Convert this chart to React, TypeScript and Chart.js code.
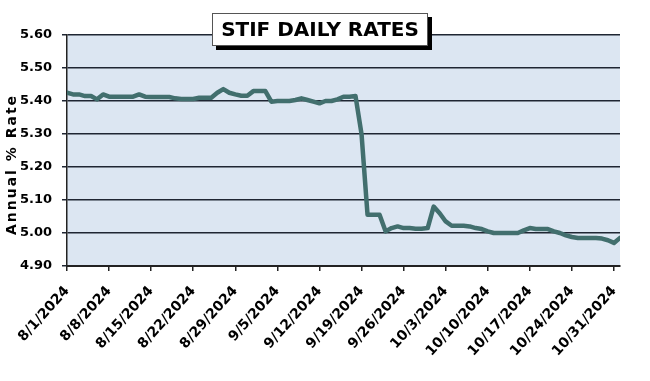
import React, { useEffect, useRef } from "react";
import { Chart, registerables } from "chart.js";

Chart.register(...registerables);

// Day offsets from 8/1/2024 and daily STIF rates
const rates: number[] = [
  5.425, 5.42, 5.42, 5.415, 5.415, 5.405, 5.42, 5.413, 5.413, 5.413,
  5.413, 5.413, 5.42, 5.413, 5.412, 5.412, 5.412, 5.412, 5.408, 5.406,
  5.406, 5.406, 5.41, 5.41, 5.41, 5.425, 5.436, 5.425, 5.42, 5.416,
  5.416, 5.43, 5.43, 5.43, 5.398, 5.4, 5.4, 5.4, 5.403, 5.408,
  5.403, 5.398, 5.393, 5.4, 5.4, 5.405, 5.413, 5.413, 5.415, 5.3,
  5.055, 5.055, 5.055, 5.005, 5.015, 5.02, 5.015, 5.015, 5.013, 5.013,
  5.015, 5.08, 5.06, 5.035, 5.022, 5.022, 5.022, 5.02, 5.015, 5.012,
  5.005, 5.0, 5.0, 5.0, 5.0, 5.0, 5.008, 5.015, 5.012, 5.012,
  5.012, 5.005, 5.0, 4.993, 4.988, 4.985, 4.985, 4.985, 4.985, 4.983,
  4.978, 4.97, 4.985,
];
const tickDays: number[] = [0, 7, 14, 21, 28, 35, 42, 49, 56, 63, 70, 77, 84, 91];
const tickLabels: string[] = [
  "8/1/2024", "8/8/2024", "8/15/2024", "8/22/2024", "8/29/2024", "9/5/2024",
  "9/12/2024", "9/19/2024", "9/26/2024", "10/3/2024", "10/10/2024",
  "10/17/2024", "10/24/2024", "10/31/2024",
];
const yTicks: number[] = [4.9, 5.0, 5.1, 5.2, 5.3, 5.4, 5.5, 5.6];
const chartTitle = "STIF DAILY RATES";
const yAxisTitle = "Annual % Rate";

export default function App() {
  const ref = useRef<HTMLCanvasElement | null>(null);
  useEffect(() => {
    if (!ref.current) return;
    const bgPlugin = {
      id: "bg",
      beforeDraw(chart: any) {
        const { ctx, chartArea } = chart;
        ctx.save();
        ctx.fillStyle = "#dce6f2";
        ctx.fillRect(chartArea.left, chartArea.top, chartArea.right - chartArea.left, chartArea.bottom - chartArea.top);
        ctx.restore();
      },
    };
    const titlePlugin = {
      id: "titleBox",
      afterDraw(chart: any) {
        const ctx = chart.ctx;
        const x = 212, y = 13, w = 216, h = 33;
        ctx.save();
        ctx.fillStyle = "#000";
        ctx.fillRect(x + 4, y + 4, w, h);
        ctx.fillStyle = "#fff";
        ctx.fillRect(x, y, w, h);
        ctx.strokeStyle = "#555";
        ctx.lineWidth = 1;
        ctx.strokeRect(x + 0.5, y + 0.5, w - 1, h - 1);
        ctx.font = "bold 20px 'DejaVu Sans'";
        ctx.fillStyle = "#000";
        ctx.textAlign = "center";
        ctx.textBaseline = "middle";
        ctx.fillText(chartTitle, 320, 31);
        ctx.restore();
      },
    };
    const yTitlePlugin = {
      id: "yTitle",
      afterDraw(chart: any) {
        const ctx = chart.ctx;
        const ca = chart.chartArea;
        ctx.save();
        ctx.translate(12, (ca.top + ca.bottom) / 2 + 14);
        ctx.rotate(-Math.PI / 2);
        ctx.font = "bold 14px 'DejaVu Sans'";
        (ctx as any).letterSpacing = "2px";
        ctx.fillStyle = "#000";
        ctx.textAlign = "center";
        ctx.textBaseline = "middle";
        ctx.fillText(yAxisTitle, 0, 0);
        ctx.restore();
      },
    };
    const chart = new Chart(ref.current, {
      type: "line",
      data: {
        labels: rates.map((_, i) => i),
        datasets: [
          {
            data: rates.map((v, i) => ({ x: i, y: v })),
            borderColor: "#426f6e",
            borderWidth: 4.5,
            pointRadius: 0,
            tension: 0,
            borderJoinStyle: "round",
            borderCapStyle: "round",
            fill: false,
          },
        ],
      },
      options: {
        animation: false,
        responsive: false,
        layout: { padding: { top: 35, right: 30, left: 0, bottom: 0 } },
        plugins: { legend: { display: false }, title: { display: false }, tooltip: { enabled: false } },
        scales: {
          x: {
            type: "linear",
            min: 0,
            max: 92,
            afterBuildTicks(scale: any) {
              scale.ticks = tickDays.map((v) => ({ value: v }));
            },
            afterFit(scale: any) {
              scale.height = 115;
            },
            ticks: {
              autoSkip: false,
              maxRotation: 48,
              minRotation: 48,
              color: "#000",
              padding: 12,
              font: { family: "'DejaVu Sans'", weight: "bold", size: 14 },
              callback: (v: any) => {
                const i = tickDays.indexOf(Number(v));
                return i >= 0 ? tickLabels[i] : "";
              },
            },
            grid: { drawOnChartArea: false, drawTicks: true, tickLength: 5, color: "#222", lineWidth: 1.5 },
            border: { display: true, color: "#222", width: 2 },
          },
          y: {
            min: 4.9,
            max: 5.6,
            afterBuildTicks(scale: any) {
              scale.ticks = yTicks.map((v) => ({ value: v }));
            },
            afterFit(scale: any) {
              scale.width = 67;
            },
            ticks: {
              color: "#000",
              padding: 10,
              font: { family: "'DejaVu Sans'", weight: "bold", size: 13 },
              callback: (v: any) => Number(v).toFixed(2),
            },
            grid: { color: "#1f2633", lineWidth: 1.5, tickLength: 5, drawTicks: true },
            border: { display: true, color: "#222", width: 1.5 },
          },
        },
      },
      plugins: [bgPlugin, titlePlugin, yTitlePlugin],
    } as any);
    return () => chart.destroy();
  }, []);
  return (
    <div style={{ position: "fixed", left: 0, top: 0, width: 650, height: 381, background: "#fff" }}>
      <canvas ref={ref} width={650} height={381} style={{ display: "block" }} />
    </div>
  );
}
